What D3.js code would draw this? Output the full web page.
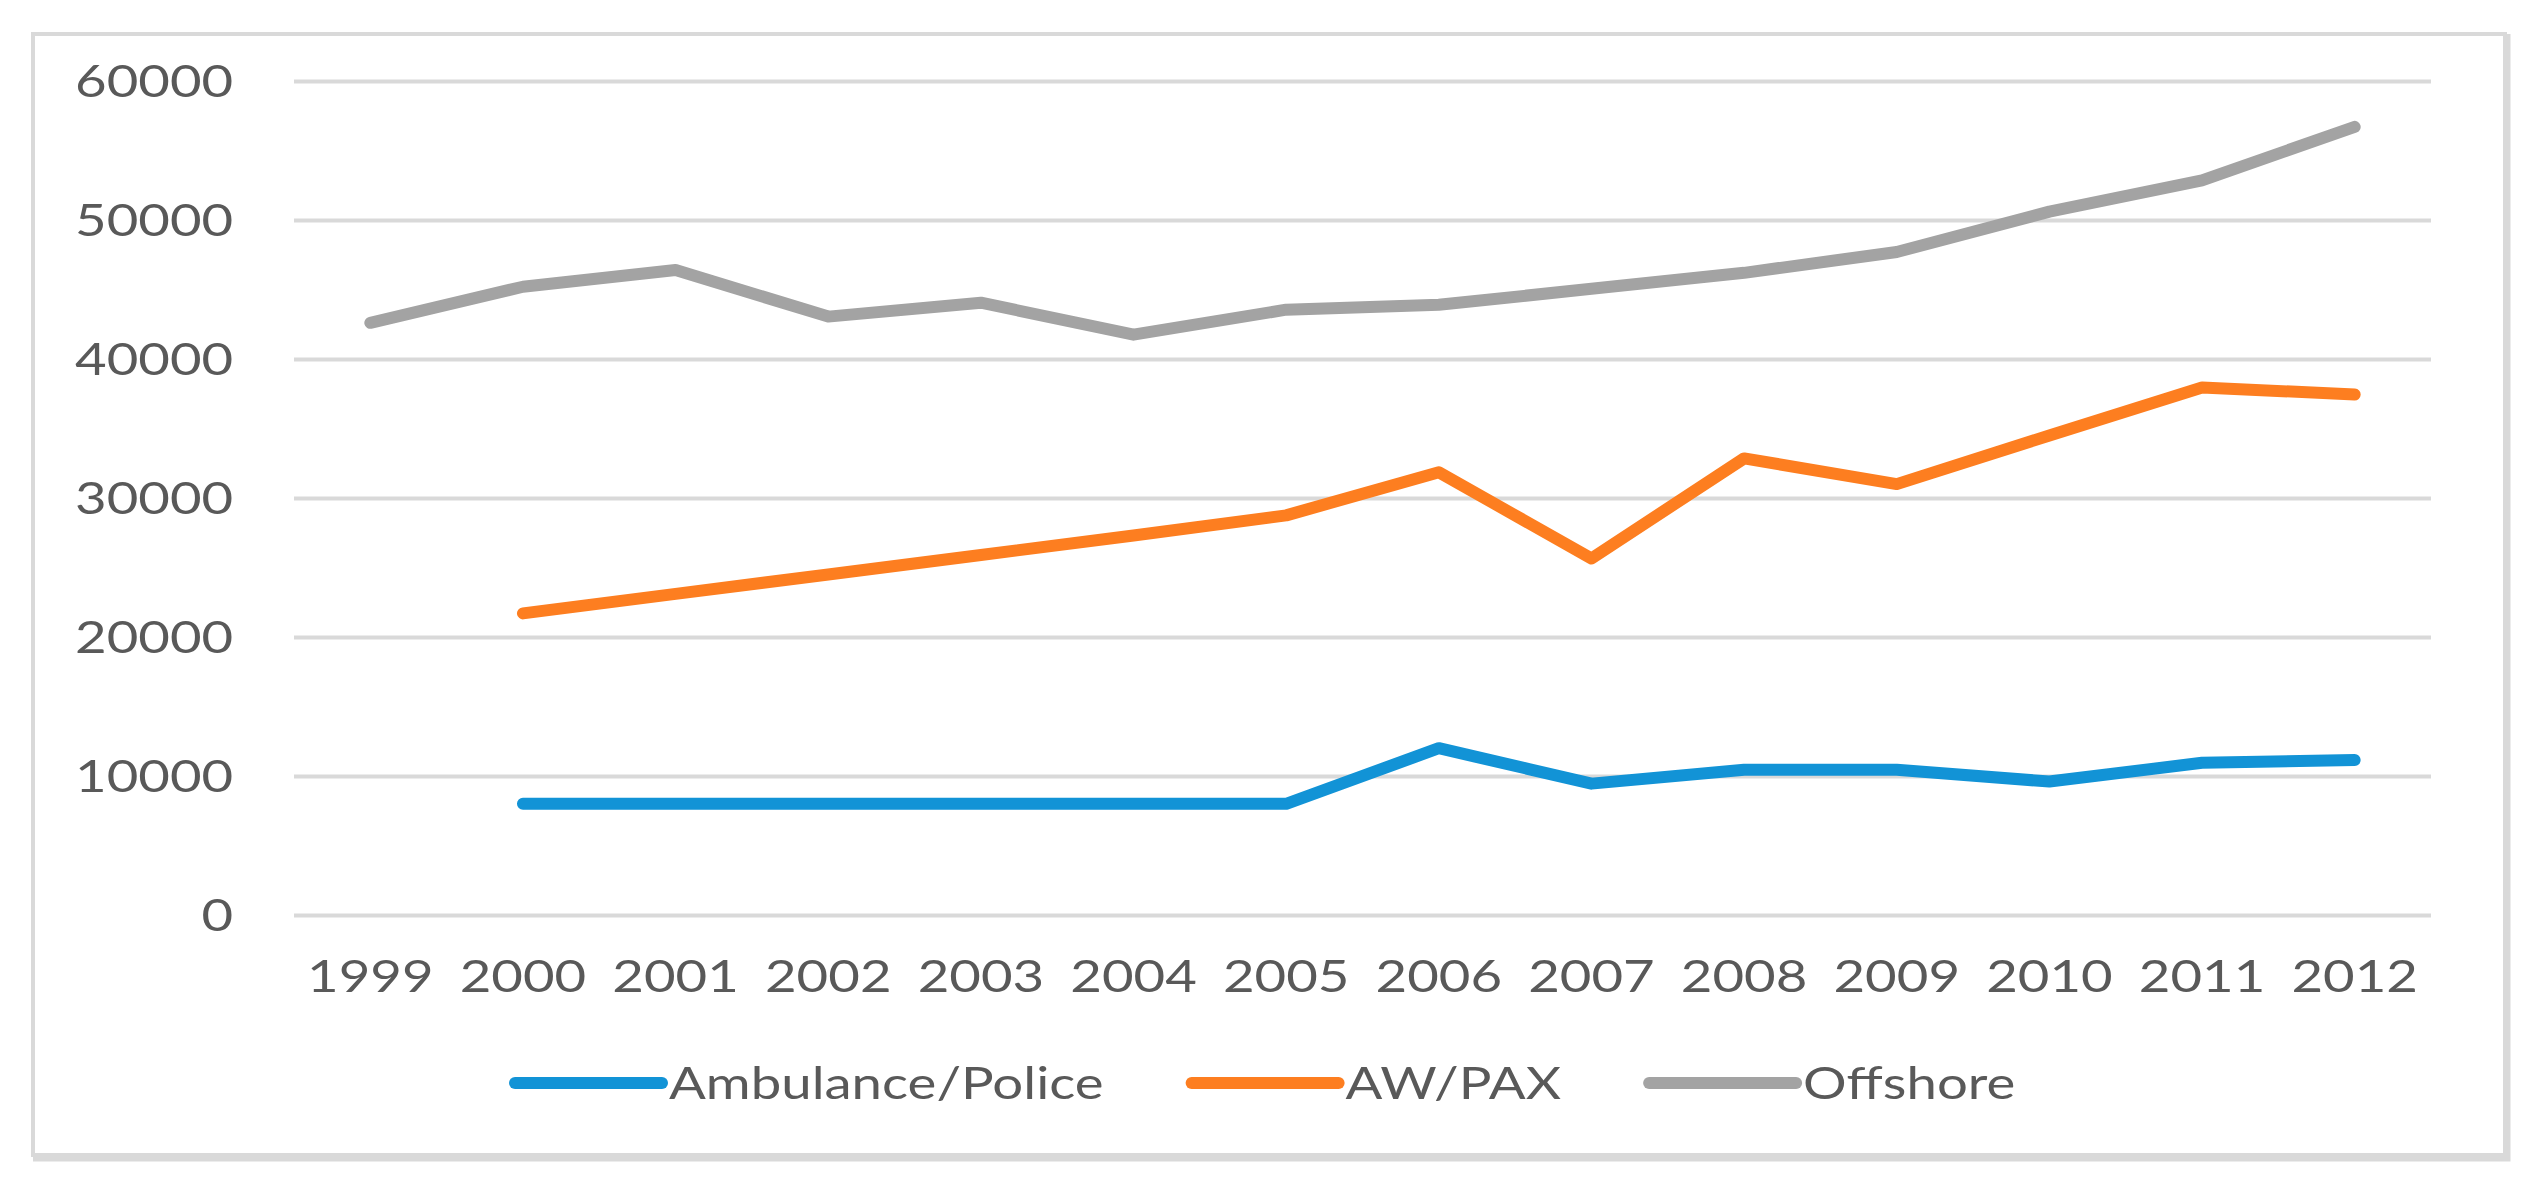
<!DOCTYPE html>
<html>
<head>
<meta charset="utf-8">
<script src="https://cdn.jsdelivr.net/npm/d3@7"></script>
<style>
  body { margin: 0; background: #fff; }
  svg { display: block; }
  text { font-family: Lato, "Open Sans", sans-serif; fill: #595959; }
</style>
</head>
<body>
<svg id="chart" width="2533" height="1194"></svg>
<script>
// data
const years = ["1999", "2000", "2001", "2002", "2003", "2004", "2005", "2006", "2007", "2008", "2009", "2010", "2011", "2012"];
const ambulancePolice = [null, 8000, 8000, 8000, 8000, 8000, 8000, 12000, 9450, 10450, 10450, 9600, 10950, 11150];
const awPax = [null, 21700, 23100, 24500, 25900, 27300, 28750, 31850, 25650, 32850, 31000, 34500, 37950, 37450];
const offshore = [42600, 45200, 46400, 43050, 44050, 41750, 43550, 43900, 45050, 46200, 47700, 50600, 52850, 56700];
const seriesNames = ["Ambulance/Police", "AW/PAX", "Offshore"];
const seriesColors = ["#1293d6", "#fd7e20", "#a3a3a3"];
const yTicks = [0, 10000, 20000, 30000, 40000, 50000, 60000];

const series = [ambulancePolice, awPax, offshore];

const svg = d3.select("#chart");
const margin = { top: 81, right: 102, bottom: 279, left: 294 };
const width = +svg.attr("width") - margin.left - margin.right;
const height = +svg.attr("height") - margin.top - margin.bottom;
const stretch = 1.24; // the text in the picture is drawn wide

// frame round the chart
svg.append("rect")
  .attr("x", 33).attr("y", 34)
  .attr("width", 2472).attr("height", 1121)
  .attr("fill", "none")
  .attr("stroke", "#d9d9d9")
  .attr("stroke-width", 4);
svg.append("path")
  .attr("d", "M2507,34V1158H33")
  .attr("fill", "none")
  .attr("stroke", "#d9d9d9")
  .attr("stroke-width", 7);

const x = d3.scaleBand()
  .domain(years)
  .range([0, width]);

const y = d3.scaleLinear()
  .domain([0, 60000])
  .range([height, 0]);

const g = svg.append("g")
  .attr("transform", `translate(${margin.left},${margin.top})`);

// y axis with gridlines
const yAxis = g.append("g")
  .call(d3.axisLeft(y).tickValues(yTicks).tickSize(-width).tickFormat(d3.format("d")));
yAxis.select(".domain").remove();
yAxis.selectAll(".tick line")
  .attr("stroke", "#d9d9d9")
  .attr("stroke-width", 4);
yAxis.selectAll(".tick text")
  .attr("x", -49)
  .attr("dy", "0.36em")
  .attr("transform", `scale(${stretch},1)`)
  .style("font-size", "44px")
  .style("font-family", "Lato")
  .attr("fill", "#595959");

// x axis
const xAxis = g.append("g")
  .attr("transform", `translate(0,${height})`)
  .call(d3.axisBottom(x).tickSize(0));
xAxis.select(".domain").remove();
xAxis.selectAll(".tick text")
  .attr("y", 77)
  .attr("dy", 0)
  .attr("transform", `scale(${stretch},1)`)
  .style("font-size", "44px")
  .style("font-family", "Lato")
  .attr("fill", "#595959");

// lines
const line = d3.line()
  .defined((d) => d != null)
  .x((d, i) => x(years[i]) + x.bandwidth() / 2)
  .y((d) => y(d));

series.forEach((vals, k) => {
  g.append("path")
    .datum(vals)
    .attr("fill", "none")
    .attr("stroke", seriesColors[k])
    .attr("stroke-width", 12)
    .attr("stroke-linecap", "round")
    .attr("stroke-linejoin", "round")
    .attr("d", line);
});

// legend
const legend = svg.append("g").attr("transform", "translate(515,1083)");
let lx = 0;
seriesNames.forEach((name, k) => {
  const item = legend.append("g").attr("transform", `translate(${lx},0)`);
  item.append("line")
    .attr("x1", 0).attr("x2", 147)
    .attr("stroke", seriesColors[k])
    .attr("stroke-width", 12)
    .attr("stroke-linecap", "round");
  const t = item.append("text")
    .attr("transform", `translate(154,0) scale(${stretch},1)`)
    .attr("dy", "0.36em")
    .style("font-size", "44px")
    .text(name);
  lx += 154 + t.node().getComputedTextLength() * stretch + 88;
});
</script>
</body>
</html>
